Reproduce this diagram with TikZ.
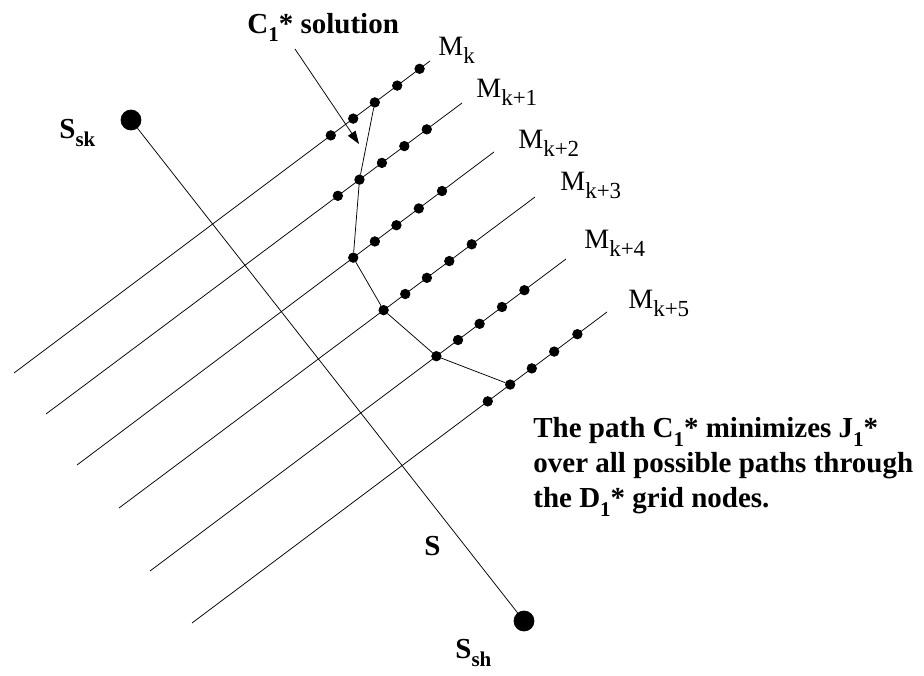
\documentclass[tikz,border=0pt]{standalone}
\usepackage{fontspec}
\setmainfont{Liberation Serif}
\usetikzlibrary{arrows.meta, calc}

\newcommand{\lowsub}[2][21]{\raisebox{-8.5pt}{\fontsize{#1}{#1}\selectfont #2}}

\begin{document}
\begin{tikzpicture}[x=1pt, y=-1pt, line width=0.75pt,
        gridpt/.style = {draw, circle, fill, inner sep=0pt, minimum size=9.5pt},
        station/.style = {draw, circle, fill, inner sep=0pt, minimum size=20pt},
        mname/.style = {anchor=base west, inner sep=0pt, font=\fontsize{28}{28}\selectfont},
        bname/.style = {anchor=base west, inner sep=0pt, font=\fontsize{29}{29}\selectfont\bfseries}]
    \useasboundingbox (0,0) rectangle (924,675);

    % measurement lines M_k ... M_{k+5}
    \coordinate (E0) at (430,61);  \coordinate (W0) at (14,373);
    \coordinate (E1) at (462,103); \coordinate (W1) at (46,414);
    \coordinate (E2) at (494,152); \coordinate (W2) at (77,465);
    \coordinate (E3) at (535,197); \coordinate (W3) at (119,508);
    \coordinate (E4) at (566,259); \coordinate (W4) at (150,571);
    \coordinate (E5) at (607,312); \coordinate (W5) at (192,623);
    \foreach \i in {0,...,5}
        \draw (W\i) -- (E\i);

    % grid nodes on each line
    \foreach \d [count=\j] in {13,41,69,96,124}
        \node[gridpt] (D0\j) at ($(E0)!\d pt!(W0)$) {};
    \foreach \d [count=\j] in {44,72,100,128,155}
        \node[gridpt] (D1\j) at ($(E1)!\d pt!(W1)$) {};
    \foreach \d [count=\j] in {65,94,122,149,176}
        \node[gridpt] (D2\j) at ($(E2)!\d pt!(W2)$) {};
    \foreach \d [count=\j] in {79,107,135,162,189}
        \node[gridpt] (D3\j) at ($(E3)!\d pt!(W3)$) {};
    \foreach \d [count=\j] in {52,80,108,135,162}
        \node[gridpt] (D4\j) at ($(E4)!\d pt!(W4)$) {};
    \foreach \d [count=\j] in {37,66,94,121,149}
        \node[gridpt] (D5\j) at ($(E5)!\d pt!(W5)$) {};

    \node[mname] (Mk0) at (438,55)  {M\lowsub[23]{k}};
    \node[mname] (Mk1) at (476,97)  {M\lowsub[23]{k+1}};
    \node[mname] (Mk2) at (518,148) {M\lowsub[23]{k+2}};
    \node[mname] (Mk3) at (560,190) {M\lowsub[23]{k+3}};
    \node[mname] (Mk4) at (584,248) {M\lowsub[23]{k+4}};
    \node[mname] (Mk5) at (628,308) {M\lowsub[23]{k+5}};

    % optimal path C_1*
    \draw (D03) -- (D14) -- (D25) -- (D35) -- (D45) -- (D54);

    \node[bname] (C1lbl) at (247,33) {C\lowsub{1}* solution};
    \coordinate (C1tail) at (295,49);
    \coordinate (C1tip) at (359,144);
    \draw[-{Triangle[length=13pt,width=9pt]}] (C1tail) -- (C1tip);

    % track S
    \node[station] (Ssk) at (131,120) {};
    \node[station] (Ssh) at (524,621) {};
    \draw (Ssk) -- (Ssh);
    \node[bname] (Ssklbl) at (59,138)  {S\lowsub{sk}};
    \node[bname] (Slbl)   at (424,555) {S};
    \node[bname] (Sshlbl) at (455,658) {S\lowsub{sh}};

    \node[anchor=north west, inner sep=0pt, align=left,
          font=\fontsize{29}{35}\selectfont\bfseries] (note) at (533,417)
        {The path C\lowsub{1}* minimizes J\lowsub{1}*\\
         over all possible paths through\\
         the D\lowsub{1}* grid nodes.};
\end{tikzpicture}
\end{document}
